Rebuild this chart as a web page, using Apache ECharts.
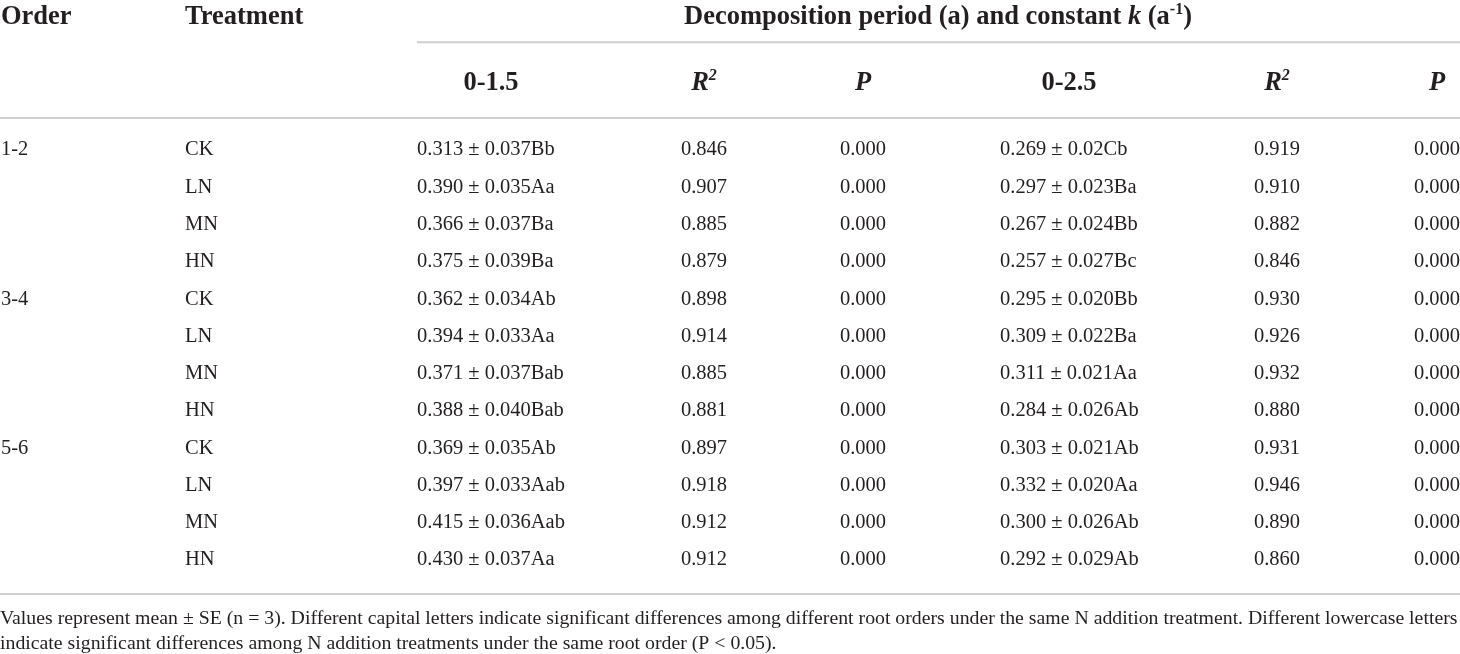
<!DOCTYPE html>
<html>
<head>
<meta charset="utf-8">
<script src="https://cdn.jsdelivr.net/npm/echarts@6/dist/echarts.min.js"></script>
<style>
html, body { margin: 0; padding: 0; background: #fff; }
#main { width: 1460px; height: 654px; }
</style>
</head>
<body>
<div id="main"></div>
<script>
// table values
var orders = ['1-2', '3-4', '5-6'];
var treatments = ['CK', 'LN', 'MN', 'HN'];

var k15Mean = [0.313, 0.390, 0.366, 0.375, 0.362, 0.394, 0.371, 0.388, 0.369, 0.397, 0.415, 0.430];
var k15SE = ['0.037', '0.035', '0.037', '0.039', '0.034', '0.033', '0.037', '0.040', '0.035', '0.033', '0.036', '0.037'];
var k15Sig = ['Bb', 'Aa', 'Ba', 'Ba', 'Ab', 'Aa', 'Bab', 'Bab', 'Ab', 'Aab', 'Aab', 'Aa'];
var r2_15 = [0.846, 0.907, 0.885, 0.879, 0.898, 0.914, 0.885, 0.881, 0.897, 0.918, 0.912, 0.912];
var p15 = [0, 0, 0, 0, 0, 0, 0, 0, 0, 0, 0, 0];

var k25Mean = [0.269, 0.297, 0.267, 0.257, 0.295, 0.309, 0.311, 0.284, 0.303, 0.332, 0.300, 0.292];
var k25SE = ['0.02', '0.023', '0.024', '0.027', '0.020', '0.022', '0.021', '0.026', '0.021', '0.020', '0.026', '0.029'];
var k25Sig = ['Cb', 'Ba', 'Bb', 'Bc', 'Bb', 'Ba', 'Aa', 'Ab', 'Ab', 'Aa', 'Ab', 'Ab'];
var r2_25 = [0.919, 0.910, 0.882, 0.846, 0.930, 0.926, 0.932, 0.880, 0.931, 0.946, 0.890, 0.860];
var p25 = [0, 0, 0, 0, 0, 0, 0, 0, 0, 0, 0, 0];

var footLines = [
	'Values represent mean \u00b1 SE (n = 3). Different capital letters indicate significant differences among different root orders under the same N addition treatment. Different lowercase letters',
	'indicate significant differences among N addition treatments under the same root order (P < 0.05).'
];

// layout (x in px of the hidden x axis, y in row units of the hidden y axis)
var FONT = '"Liberation Serif", "DejaVu Serif", serif';
var INK = '#231f20';
var RULE = '#cfcfcf';
var colX = [1, 185, 417, 704, 863, 1000, 1277, 1437];
var headX = [1, 185, 491, 704, 863, 1069, 1277, 1437];
var rowH1 = -3.57, rowH2 = -1.8, rowFoot = [12.58, 13.24];

var rich = {
	b: { fontFamily: FONT, fontSize: 26.5, fontWeight: 'bold', fill: INK, lineHeight: 29 },
	bi: { fontFamily: FONT, fontSize: 26.5, fontWeight: 'bold', fontStyle: 'italic', fill: INK, lineHeight: 29 },
	s: { fontFamily: FONT, fontSize: 16, fontWeight: 'bold', fill: INK, lineHeight: 16, padding: [0, 0, 15, 0] },
	si: { fontFamily: FONT, fontSize: 16, fontWeight: 'bold', fontStyle: 'italic', fill: INK, lineHeight: 16, padding: [0, 0, 15, 0] }
};

var headers = [
	{ x: headX[0], y: rowH1, text: '{b|Order}', align: 'left' },
	{ x: headX[1], y: rowH1, text: '{b|Treatment}', align: 'left' },
	{ x: 938, y: rowH1, text: '{b|Decomposition period (a) and constant }{bi|k}{b| (a}{s|-1}{b|)}', align: 'center' },
	{ x: headX[2], y: rowH2, text: '{b|0-1.5}', align: 'center' },
	{ x: headX[3], y: rowH2, text: '{bi|R}{si|2}', align: 'center' },
	{ x: headX[4], y: rowH2, text: '{bi|P}', align: 'center' },
	{ x: headX[5], y: rowH2, text: '{b|0-2.5}', align: 'center' },
	{ x: headX[6], y: rowH2, text: '{bi|R}{si|2}', align: 'center' },
	{ x: headX[7], y: rowH2, text: '{bi|P}', align: 'center' }
];

var rules = [
	[417, 1460, -2.89],
	[0, 1460, -0.86],
	[0, 1460, 11.91]
];

function txt(pt, text, align, size, weight) {
	return {
		type: 'text',
		x: pt[0],
		y: pt[1],
		style: {
			text: text,
			fontFamily: FONT,
			fontSize: size || 20.5,
			fontWeight: weight || 'normal',
			fill: INK,
			align: align,
			verticalAlign: 'middle'
		}
	};
}

var rowIdx = [];
for (var i = 0; i < k15Mean.length; i++) rowIdx.push([0, i]);

var chart = echarts.init(document.getElementById('main'), null, { renderer: 'canvas' });
var option = {
	backgroundColor: '#fff',
	animation: false,
	grid: { left: 0, right: 0, top: 0, bottom: 0 },
	xAxis: { type: 'value', min: 0, max: 1460, show: false },
	yAxis: { type: 'value', min: -4.025, max: 13.52, inverse: true, show: false },
	series: [
		{
			// horizontal rules
			type: 'custom',
			data: rules,
			renderItem: function (params, api) {
				var a = api.coord([api.value(0), api.value(2)]);
				var b = api.coord([api.value(1), api.value(2)]);
				return {
					type: 'line',
					shape: { x1: a[0], y1: a[1], x2: b[0], y2: b[1] },
					style: { stroke: RULE, lineWidth: 2 }
				};
			}
		},
		{
			// header cells
			type: 'custom',
			data: headers.map(function (h) { return [h.x, h.y]; }),
			renderItem: function (params, api) {
				var h = headers[params.dataIndex];
				var pt = api.coord([api.value(0), api.value(1)]);
				return {
					type: 'text',
					x: pt[0],
					y: pt[1],
					style: {
						text: h.text,
						rich: rich,
						fontFamily: FONT,
						fill: INK,
						align: h.align,
						verticalAlign: 'middle'
					}
				};
			}
		},
		{
			// body rows
			type: 'custom',
			data: rowIdx,
			renderItem: function (params, api) {
				var i = params.dataIndex;
				var y = api.value(1);
				var kids = [];
				if (i % treatments.length === 0) {
					kids.push(txt(api.coord([colX[0], y]), orders[i / treatments.length], 'left'));
				}
				kids.push(txt(api.coord([colX[1], y]), treatments[i % treatments.length], 'left'));
				kids.push(txt(api.coord([colX[2], y]), k15Mean[i].toFixed(3) + ' \u00b1 ' + k15SE[i] + k15Sig[i], 'left'));
				kids.push(txt(api.coord([colX[3], y]), r2_15[i].toFixed(3), 'center'));
				kids.push(txt(api.coord([colX[4], y]), p15[i].toFixed(3), 'center'));
				kids.push(txt(api.coord([colX[5], y]), k25Mean[i].toFixed(3) + ' \u00b1 ' + k25SE[i] + k25Sig[i], 'left'));
				kids.push(txt(api.coord([colX[6], y]), r2_25[i].toFixed(3), 'center'));
				kids.push(txt(api.coord([colX[7], y]), p25[i].toFixed(3), 'center'));
				return { type: 'group', children: kids };
			}
		},
		{
			// footnote
			type: 'custom',
			data: footLines.map(function (t, j) { return [0, rowFoot[j]]; }),
			renderItem: function (params, api) {
				var pt = api.coord([api.value(0), api.value(1)]);
				return txt(pt, footLines[params.dataIndex], 'left', 19.8);
			}
		}
	]
};
chart.setOption(option);
</script>
</body>
</html>
